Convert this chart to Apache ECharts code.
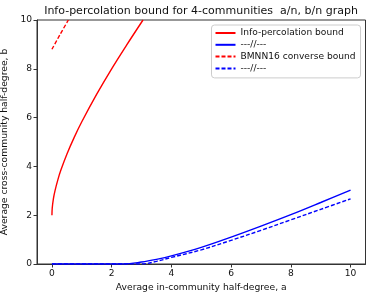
<!DOCTYPE html>
<html>
<head>
<meta charset="utf-8">
<script src="https://cdn.jsdelivr.net/npm/echarts@6/dist/echarts.min.js"></script>
<style>html,body{margin:0;padding:0;background:#fff}#c{width:374px;height:298px}</style>
</head>
<body>
<div id="c"></div>
<script>
// Info-percolation bound (red solid)
const aInfo = [0, 0.01, 0.05, 0.1, 0.2, 0.3, 0.5, 0.75, 1, 1.5, 2, 2.5, 3.05];
const bInfo = [2.0, 2.29, 2.68, 2.99, 3.46, 3.85, 4.50, 5.20, 5.83, 6.96, 8.00, 8.97, 10.0];
// ---//--- (blue solid)
const aInfoB = [0, 1, 2, 2.4, 3, 3.5, 4, 5, 6, 7, 8, 9, 10];
const bInfoB = [0, 0, 0, 0, 0.08, 0.19, 0.33, 0.68, 1.1, 1.55, 2.02, 2.52, 3.03];
// BMNN16 converse bound (red dashed)
const aBmnn = [0, 0.27, 0.55];
const bBmnn = [8.8, 9.4, 10.0];
// ---//--- (blue dashed)
const aBmnnB = [0, 1, 2, 3, 3.5, 4, 5, 6, 7, 8, 9, 10];
const bBmnnB = [0, 0, 0, 0, 0.11, 0.27, 0.58, 0.97, 1.38, 1.81, 2.24, 2.67];

const seriesNames = ['Info-percolation bound', '---//---', 'BMNN16 converse bound', '---//--- '];
const xTicks = [0, 2, 4, 6, 8, 10];
const yTicks = [0, 2, 4, 6, 8, 10];
const titleText = 'Info-percolation bound for 4-communities  a/n, b/n graph';
const xName = 'Average in-community half-degree, a';
const yName = 'Average cross-community half-degree, b';

const zip = (xs, ys) => xs.map((x, i) => [x, ys[i]]);
const FONT = 'DejaVu Sans';

const chart = echarts.init(document.getElementById('c'), null, {renderer: 'canvas'});
function line(name, xs, ys, color, dashed) {
  return {
    name: name, type: 'line', data: zip(xs, ys), showSymbol: false, symbol: 'none',
    smooth: 0.35, clip: true, animation: false,
    lineStyle: {color: color, width: 1.4, type: dashed ? [4, 2] : 'solid'},
    itemStyle: {color: color}
  };
}
chart.setOption({
  animation: false,
  textStyle: {fontFamily: FONT},
  title: {
    text: titleText, left: 201, top: 6, textAlign: 'center', padding: 0,
    textStyle: {fontFamily: FONT, fontSize: 11, fontWeight: 'normal', color: '#111'}
  },
  grid: {left: 37, right: 8.5, top: 20, bottom: 34, show: true, borderColor: '#333', borderWidth: 1, outerBoundsMode: 'none'},
  legend: {
    orient: 'vertical', left: 211.5, top: 25,
    data: seriesNames,
    itemWidth: 20, itemHeight: 10, itemGap: 2.8,
    padding: [3.5, 5, 5, 3],
    backgroundColor: '#fff', borderColor: '#ccc', borderWidth: 1, borderRadius: 3,
    itemStyle: {color: 'transparent', borderColor: 'transparent', borderWidth: 0, opacity: 0},
    textStyle: {fontFamily: FONT, fontSize: 9.1, color: '#111'}
  },
  xAxis: {
    type: 'value', min: -0.5, max: 10.5,
    name: xName, nameLocation: 'middle', nameGap: 18,
    nameTextStyle: {fontFamily: FONT, fontSize: 9.2, color: '#111'},
    axisLine: {show: true, onZero: false, lineStyle: {color: '#333', width: 1}},
    axisTick: {show: true, length: 3.5, customValues: xTicks, lineStyle: {color: '#333'}},
    axisLabel: {customValues: xTicks, margin: 5, fontFamily: FONT, fontSize: 9.1, color: '#111'},
    splitLine: {show: false}
  },
  yAxis: {
    type: 'value', min: 0, max: 10, interval: 2,
    name: yName, nameLocation: 'middle', nameGap: 18,
    nameTextStyle: {fontFamily: FONT, fontSize: 9.2, color: '#111'},
    axisLine: {show: true, onZero: false, lineStyle: {color: '#333', width: 1}},
    axisTick: {show: true, length: 3.5, lineStyle: {color: '#333'}},
    axisLabel: {margin: 5, fontFamily: FONT, fontSize: 9.1, color: '#111',
      formatter: v => (yTicks.indexOf(v) >= 0 ? String(v) : '')},
    splitLine: {show: false}
  },
  series: [
    line(seriesNames[0], aInfo, bInfo, '#ff0000', false),
    line(seriesNames[1], aInfoB, bInfoB, '#0000ff', false),
    line(seriesNames[2], aBmnn, bBmnn, '#ff0000', true),
    line(seriesNames[3], aBmnnB, bBmnnB, '#0000ff', true)
  ]
});
</script>
</body>
</html>
